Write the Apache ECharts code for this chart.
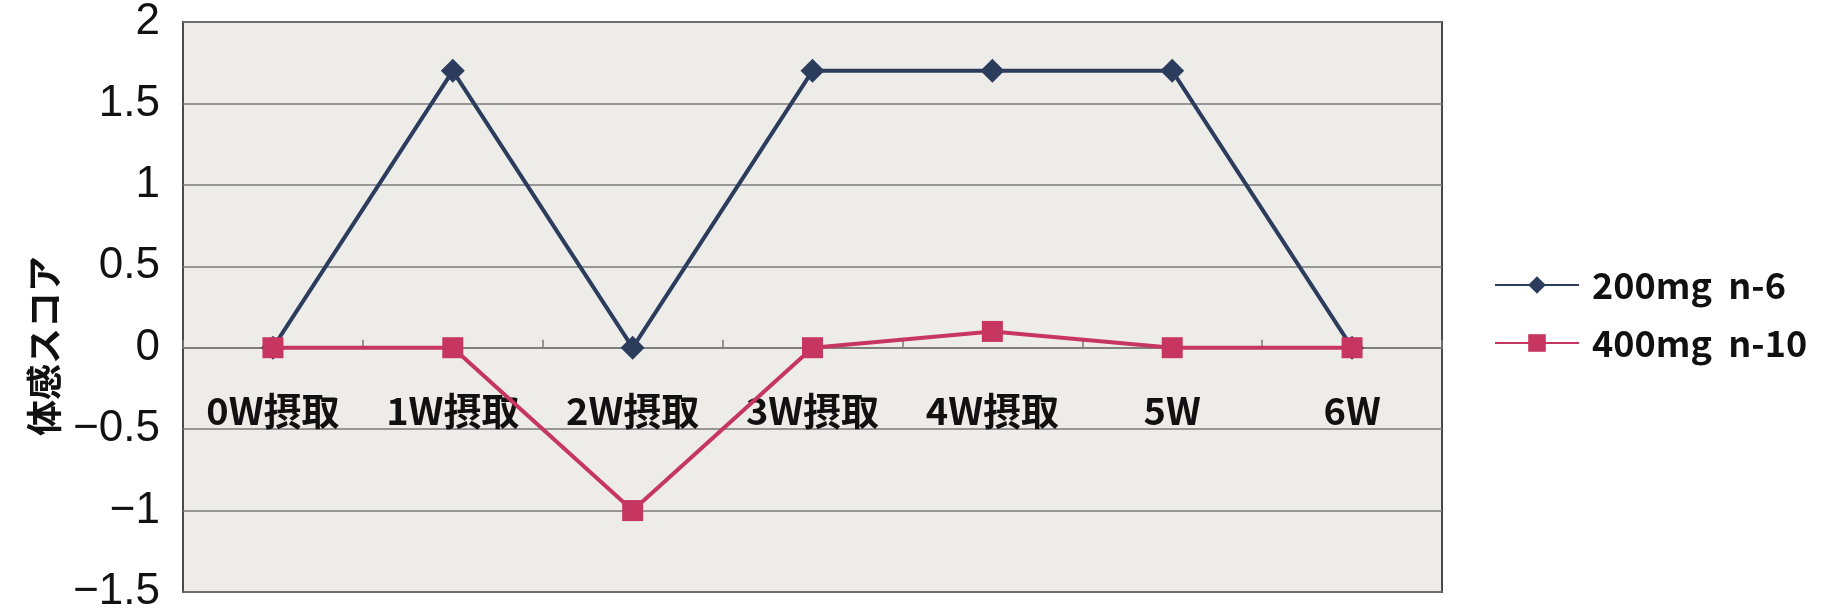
<!DOCTYPE html>
<html>
<head>
<meta charset="utf-8">
<script src="https://cdn.jsdelivr.net/npm/echarts@6/dist/echarts.min.js"></script>
<style>
html,body{margin:0;padding:0;background:#fff;}
#chart{width:1822px;height:614px;}
</style>
</head>
<body>
<div id="chart"></div>
<script>
const categories = ['0W摂取', '1W摂取', '2W摂取', '3W摂取', '4W摂取', '5W', '6W'];
const series200Name = '200mg  n-6';
const series400Name = '400mg  n-10';
const series200 = [0, 1.7, 0, 1.7, 1.7, 1.7, 0];
const series400 = [0, 0, -1, 0, 0.1, 0, 0];
const yAxisTitle = '体感スコア';

const navy = '#2b3c5c';
const red = '#c73660';
const cjk = '"Noto Sans CJK JP", sans-serif';

const yMin = -1.5, yMax = 2;
const gridTop = 22, gridBottom = 22, chartH = 614;
const plotH = chartH - gridTop - gridBottom;
// shift the x axis up so it sits on the zero line (labels follow it)
const zeroOffset = -plotH * (0 - yMin) / (yMax - yMin);

const chart = echarts.init(document.getElementById('chart'), null, {renderer: 'canvas'});
chart.setOption({
  animation: false,
  backgroundColor: '#ffffff',
  grid: {
    left: 183, right: 380, top: gridTop, bottom: gridBottom,
    outerBoundsMode: 'none',
    containLabel: false,
    show: true,
    backgroundColor: '#eeece9',
    borderColor: '#4a4a4a',
    borderWidth: 2
  },
  legend: {
    left: 1489,
    top: 262,
    orient: 'vertical',
    itemWidth: 84,
    itemHeight: 22,
    itemGap: 22,
    textStyle: {
      fontFamily: cjk,
      fontSize: 36,
      fontWeight: 'bold',
      color: '#111',
      padding: [0, 0, 0, 8]
    },
    data: [series200Name, series400Name]
  },
  graphic: [{
    type: 'text',
    x: 44,
    y: 346,
    rotation: Math.PI / 2,
    style: {
      text: yAxisTitle,
      fontFamily: cjk,
      fontSize: 36,
      fontWeight: 'bold',
      fill: '#111',
      align: 'center',
      verticalAlign: 'middle'
    }
  }],
  xAxis: {
    type: 'category',
    data: categories,
    boundaryGap: true,
    offset: zeroOffset,
    axisLine: {onZero: false, lineStyle: {color: '#7a7a7a', width: 1.5}},
    axisTick: {show: true, inside: true, length: 8, lineStyle: {color: '#7a7a7a', width: 1.5}},
    axisLabel: {
      margin: 44,
      fontFamily: cjk,
      fontSize: 38,
      fontWeight: 'bold',
      color: '#111'
    },
    splitLine: {show: false}
  },
  yAxis: {
    type: 'value',
    min: yMin,
    max: yMax,
    interval: 0.5,
    axisLine: {show: false},
    axisTick: {show: false},
    axisLabel: {
      margin: 23,
      fontFamily: '"Liberation Sans", Arial, sans-serif',
      fontSize: 44,
      color: '#111',
      formatter: function (v) { return String(v).replace('-', '\u2212'); }
    },
    splitLine: {show: true, lineStyle: {color: '#7a7a7a', width: 1.5}}
  },
  series: [
    {
      name: series200Name,
      type: 'line',
      data: series200,
      symbol: 'diamond',
      symbolSize: 24,
      lineStyle: {color: navy, width: 4},
      itemStyle: {color: navy},
      z: 3
    },
    {
      name: series400Name,
      type: 'line',
      data: series400,
      symbol: 'rect',
      symbolSize: 21,
      lineStyle: {color: red, width: 4},
      itemStyle: {color: red},
      z: 4
    }
  ]
});
</script>
</body>
</html>
